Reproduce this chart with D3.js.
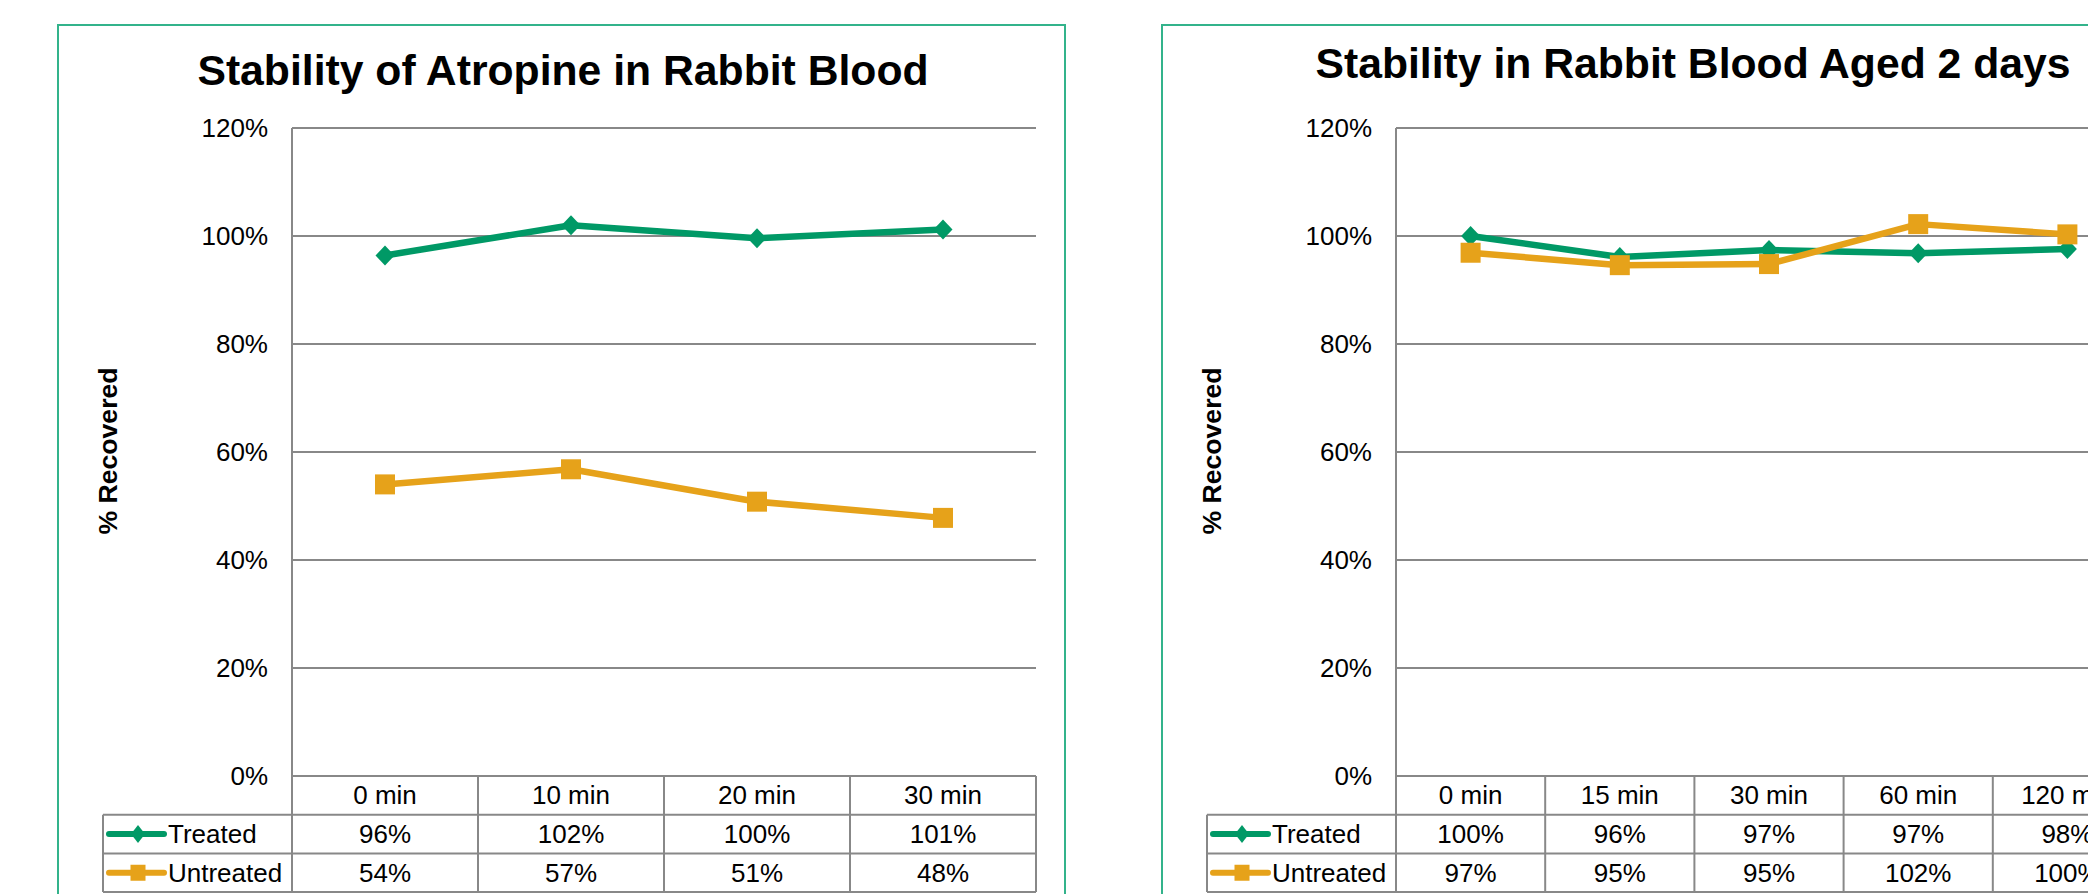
<!DOCTYPE html>
<html>
<head>
<meta charset="utf-8">
<script src="https://cdn.jsdelivr.net/npm/d3@7/dist/d3.min.js"></script>
<style>
  html, body { margin: 0; padding: 0; background: #fff; overflow: hidden; }
  svg { display: block; font-family: "Liberation Sans", Arial, sans-serif; }
</style>
</head>
<body>
<svg id="chart" width="2088" height="894"></svg>
<script>
// ---- data ----
const seriesNames = ["Treated", "Untreated"];
const yTicks = [0, 0.2, 0.4, 0.6, 0.8, 1.0, 1.2];

const title1 = "Stability of Atropine in Rabbit Blood";
const categories1 = ["0 min", "10 min", "20 min", "30 min"];
const treated1 = [0.964, 1.020, 0.996, 1.012];
const untreated1 = [0.540, 0.568, 0.508, 0.478];

const title2 = "Stability in Rabbit Blood Aged 2 days";
const categories2 = ["0 min", "15 min", "30 min", "60 min", "120 min"];
const treated2 = [1.000, 0.961, 0.974, 0.968, 0.976];
const untreated2 = [0.969, 0.946, 0.948, 1.022, 1.003];

const yAxisTitle = "% Recovered";

// ---- styles ----
const colors = ["#009966", "#E6A21A"];
const frameColor = "#33B38B";
const gridColor = "#888888";
const pct = d3.format(".0%");

const svg = d3.select("#chart");

function drawChart(opt) {
  const g = svg.append("g");
  const top = 128, bottom = 776, rowH = 38.7;

  // frame
  g.append("rect")
    .attr("x", opt.frameLeft).attr("y", 25)
    .attr("width", opt.frameRight - opt.frameLeft).attr("height", 1000)
    .attr("fill", "none").attr("stroke", frameColor).attr("stroke-width", 2);

  const x = d3.scaleBand().domain(opt.categories).range([opt.plotLeft, opt.plotRight]);
  const y = d3.scaleLinear().domain([0, 1.2]).range([bottom, top]);

  // title
  g.append("text")
    .attr("x", opt.titleX).attr("y", opt.titleY)
    .attr("text-anchor", "middle")
    .attr("font-size", 42.7).attr("font-weight", "bold").attr("fill", "#000")
    .text(opt.title);

  // gridlines
  g.append("g").selectAll("line").data(yTicks).join("line")
    .attr("x1", opt.plotLeft).attr("x2", opt.plotRight)
    .attr("y1", d => y(d)).attr("y2", d => y(d))
    .attr("stroke", gridColor).attr("stroke-width", 2);

  // y axis tick labels via d3 axis
  const yAxis = d3.axisLeft(y).tickValues(yTicks).tickFormat(pct).tickSize(0).tickPadding(0);
  const ya = g.append("g").attr("transform", `translate(${opt.tickRight},0)`).call(yAxis);
  ya.select(".domain").remove();
  ya.selectAll("text").attr("font-size", 26).attr("fill", "#000")
    .attr("font-family", "\"Liberation Sans\", Arial, sans-serif");

  // y axis line (plot left), extends through table
  const tableBottom = bottom + rowH * 3;
  g.append("line")
    .attr("x1", opt.plotLeft).attr("x2", opt.plotLeft)
    .attr("y1", top).attr("y2", tableBottom)
    .attr("stroke", gridColor).attr("stroke-width", 2);

  // y axis title
  g.append("text")
    .attr("transform", `translate(${opt.yTitleX},451) rotate(-90)`)
    .attr("text-anchor", "middle")
    .attr("font-size", 26.6).attr("font-weight", "bold").attr("fill", "#000")
    .text(yAxisTitle);

  // table horizontal lines
  const hLines = [
    { y: bottom, x1: opt.plotLeft },
    { y: bottom + rowH, x1: opt.legendLeft },
    { y: bottom + rowH * 2, x1: opt.legendLeft },
    { y: bottom + rowH * 3, x1: opt.legendLeft }
  ];
  g.append("g").selectAll("line").data(hLines).join("line")
    .attr("x1", d => d.x1).attr("x2", opt.plotRight)
    .attr("y1", d => d.y).attr("y2", d => d.y)
    .attr("stroke", gridColor).attr("stroke-width", 2);

  // table vertical lines
  const vx = opt.categories.map(c => x(c) + x.bandwidth());
  g.append("g").selectAll("line").data(vx).join("line")
    .attr("x1", d => d).attr("x2", d => d)
    .attr("y1", bottom).attr("y2", tableBottom)
    .attr("stroke", gridColor).attr("stroke-width", 2);
  g.append("line")
    .attr("x1", opt.legendLeft).attr("x2", opt.legendLeft)
    .attr("y1", bottom + rowH).attr("y2", tableBottom)
    .attr("stroke", gridColor).attr("stroke-width", 2);

  // category labels
  g.append("g").selectAll("text").data(opt.categories).join("text")
    .attr("x", d => x(d) + x.bandwidth() / 2)
    .attr("y", bottom + rowH / 2).attr("dy", "0.35em")
    .attr("text-anchor", "middle").attr("font-size", 26).attr("fill", "#000")
    .text(d => d);

  const series = [opt.treated, opt.untreated];
  series.forEach((vals, si) => {
    const rowY = bottom + rowH * (si + 1) + rowH / 2;
    // values in table
    g.append("g").selectAll("text").data(vals).join("text")
      .attr("x", (d, i) => x(opt.categories[i]) + x.bandwidth() / 2)
      .attr("y", rowY).attr("dy", "0.35em")
      .attr("text-anchor", "middle").attr("font-size", 26).attr("fill", "#000")
      .text(d => pct(d));
    // legend key
    const lx1 = opt.legendLeft + 6, lx2 = opt.legendLeft + 61, lc = opt.legendLeft + 35;
    g.append("line")
      .attr("x1", lx1).attr("x2", lx2).attr("y1", rowY).attr("y2", rowY)
      .attr("stroke", colors[si]).attr("stroke-width", 6).attr("stroke-linecap", "round");
    if (si === 0) {
      g.append("path")
        .attr("d", `M${lc},${rowY - 9} L${lc + 7},${rowY} L${lc},${rowY + 9} L${lc - 7},${rowY} Z`)
        .attr("fill", colors[si]);
    } else {
      g.append("rect")
        .attr("x", lc - 7.5).attr("y", rowY - 8).attr("width", 15).attr("height", 16)
        .attr("fill", colors[si]);
    }
    g.append("text")
      .attr("x", opt.legendLeft + 65).attr("y", rowY).attr("dy", "0.35em")
      .attr("font-size", 26).attr("fill", "#000")
      .text(seriesNames[si]);

    // line
    const line = d3.line()
      .x((d, i) => x(opt.categories[i]) + x.bandwidth() / 2)
      .y(d => y(d));
    g.append("path").datum(vals)
      .attr("d", line).attr("fill", "none")
      .attr("stroke", colors[si]).attr("stroke-width", 6.5)
      .attr("stroke-linejoin", "round");

    // markers
    const mg = g.append("g").selectAll("path").data(vals).join("path")
      .attr("transform", (d, i) => `translate(${x(opt.categories[i]) + x.bandwidth() / 2},${y(d)})`)
      .attr("fill", colors[si]);
    if (si === 0) {
      mg.attr("d", "M0,-10 L9.5,0 L0,10 L-9.5,0 Z");
    } else {
      mg.attr("d", "M-10,-10 L10,-10 L10,10 L-10,10 Z");
    }
  });
}

drawChart({
  title: title1, categories: categories1, treated: treated1, untreated: untreated1,
  frameLeft: 58, frameRight: 1065, plotLeft: 292, plotRight: 1036,
  legendLeft: 103, tickRight: 268, yTitleX: 117, titleX: 563, titleY: 85
});

drawChart({
  title: title2, categories: categories2, treated: treated2, untreated: untreated2,
  frameLeft: 1162, frameRight: 2171, plotLeft: 1396, plotRight: 2142,
  legendLeft: 1207, tickRight: 1372, yTitleX: 1221, titleX: 1693, titleY: 78
});
</script>
</body>
</html>
